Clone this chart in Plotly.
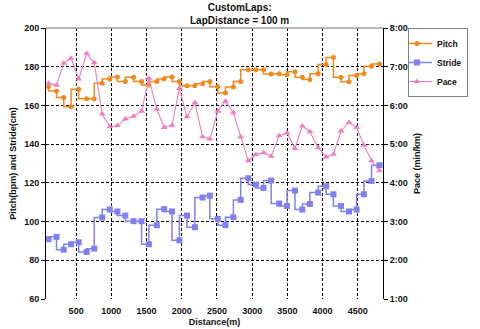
import plotly.graph_objects as go

# Lap end positions along the run (m)
distance = [108, 221, 324, 428, 536, 649, 757, 870, 978, 1086, 1199, 1316, 1429, 1533, 1646,
            1750, 1862, 1966, 2074, 2187, 2295, 2399, 2512, 2620, 2733, 2837, 2945, 3053, 3161, 3270,
            3383, 3495, 3608, 3712, 3820, 3937, 4050, 4154, 4262, 4375, 4483, 4587, 4695, 4808]

# Cadence per lap (steps/min)
pitch = [169.7, 167.4, 164.1, 159.3, 168.4, 163.4, 163.4, 171.4, 173.6, 174.7, 172.4, 174.5, 172.4, 170.5, 172.4,
         173.6, 174.7, 172.4, 170.2, 170.2, 171.2, 172.4, 169.7, 166.4, 169.5, 172.4, 178.4, 178.4, 178.4, 176.2,
         176.4, 175.9, 177.4, 174.5, 173.4, 176.4, 181.2, 184.7, 174.5, 172.2, 175.5, 176.4, 180.3, 181.4]

# Stride length per lap (cm)
stride = [90.9, 92.1, 85.5, 88.3, 89.3, 84.3, 86.0, 102.1, 106.2, 105.2, 103.1, 100.2, 100.2, 88.3, 98.1,
          106.4, 105.2, 90.3, 103.1, 97.1, 112.4, 113.4, 101.4, 98.1, 102.2, 111.2, 122.4, 119.1, 117.4, 121.2,
          109.3, 108.1, 116.0, 106.2, 109.1, 115.0, 118.3, 114.1, 108.1, 105.2, 106.2, 114.1, 121.0, 129.1]

# Pace per lap (decimal minutes per km)
pace = [6.57, 6.52, 7.09, 7.22, 6.68, 7.34, 7.10, 5.78, 5.45, 5.48, 5.65, 5.72, 5.85, 6.70, 5.90,
        5.43, 5.49, 6.44, 5.71, 6.07, 5.19, 5.13, 5.85, 6.11, 5.81, 5.19, 4.57, 4.73, 4.78, 4.69,
        5.22, 5.29, 4.89, 5.47, 5.32, 4.91, 4.67, 4.74, 5.34, 5.56, 5.43, 4.97, 4.57, 4.31]

x_ticks = [500, 1000, 1500, 2000, 2500, 3000, 3500, 4000, 4500]
left_ticks = [60, 80, 100, 120, 140, 160, 180, 200]
pace_ticks = [1, 2, 3, 4, 5, 6, 7, 8]
pace_tick_text = ["1:00", "2:00", "3:00", "4:00", "5:00", "6:00", "7:00", "8:00"]

ORANGE = "#F0891E"
BLUE = "#8080F0"
PINK = "#F07DC0"
FONT = "Liberation Sans, Arial, sans-serif"
TXT = "#111111"

fig = go.Figure()
fig.add_trace(go.Scatter(
    x=distance, y=pitch, name="Pitch", mode="lines+markers",
    line=dict(shape="vh", color=ORANGE, width=1.5),
    marker=dict(symbol="circle", size=5, color=ORANGE)))
fig.add_trace(go.Scatter(
    x=distance, y=stride, name="Stride", mode="lines+markers",
    line=dict(shape="vh", color=BLUE, width=1.5),
    marker=dict(symbol="square", size=6, color=BLUE)))
fig.add_trace(go.Scatter(
    x=distance, y=pace, name="Pace", mode="lines+markers", yaxis="y2",
    line=dict(color=PINK, width=1.1),
    marker=dict(symbol="triangle-up", size=6, color=PINK)))

fig.update_layout(
    width=480, height=329, autosize=False,
    margin=dict(l=37, r=90, t=28, b=30),
    paper_bgcolor="white", plot_bgcolor="white",
    font=dict(family=FONT, size=9, color=TXT),
    xaxis=dict(range=[72, 4858], tickvals=x_ticks, showgrid=True, gridcolor="#000000",
               griddash="3px,2px", gridwidth=1, zeroline=False, showline=False, ticks="",
               ticklabelstandoff=5, automargin=False,
               tickfont=dict(family=FONT, size=9, color=TXT, weight="bold"),
               title=dict(text="Distance(m)", standoff=3,
                          font=dict(family=FONT, size=9, color=TXT, weight="bold"))),
    yaxis=dict(range=[60, 200], tickvals=left_ticks, showgrid=True, gridcolor="#000000",
               griddash="3px,2px", gridwidth=1, zeroline=False, showline=True,
               linecolor="#000000", linewidth=1, ticks="outside", ticklen=4, tickcolor="#000000",
               tickfont=dict(family=FONT, size=9, color=TXT, weight="bold"),
               title=dict(text="Pitch(bpm) and Stride(cm)", standoff=6,
                          font=dict(family=FONT, size=9, color=TXT, weight="bold"))),
    yaxis2=dict(range=[1, 8], tickvals=pace_ticks, ticktext=pace_tick_text, overlaying="y",
                side="right", showgrid=False, zeroline=False, showline=True,
                linecolor="#000000", linewidth=1, ticks="outside", ticklen=4, tickcolor="#000000",
                tickfont=dict(family=FONT, size=9, color=TXT, weight="bold"),
                title=dict(text="Pace (min/km)", standoff=6,
                           font=dict(family=FONT, size=9, color=TXT, weight="bold"))),
    legend=dict(x=(479 - 37) / 353, xref="paper", xanchor="right", y=1.0, yref="paper",
                yanchor="top", bgcolor="white", bordercolor="#808080", borderwidth=1,
                itemwidth=30, tracegroupgap=0, indentation=-12,
                font=dict(family=FONT, size=8.5, color=TXT, weight="bold")),
    annotations=[dict(text="<b>CustomLaps:</b><br><b>LapDistance = 100 m</b>",
                      xref="paper", yref="paper", x=(240 - 37) / 353, y=1 + 27 / 271,
                      xanchor="center", yanchor="top", showarrow=False, borderpad=0,
                      font=dict(family=FONT, size=10, color=TXT))],
    shapes=[dict(type="line", xref="paper", yref="paper", x0=0, x1=1, y0=1, y1=1,
                 line=dict(color="#A0A0A0", width=1.5))],
    showlegend=True,
)

fig.write_html("out.html")
